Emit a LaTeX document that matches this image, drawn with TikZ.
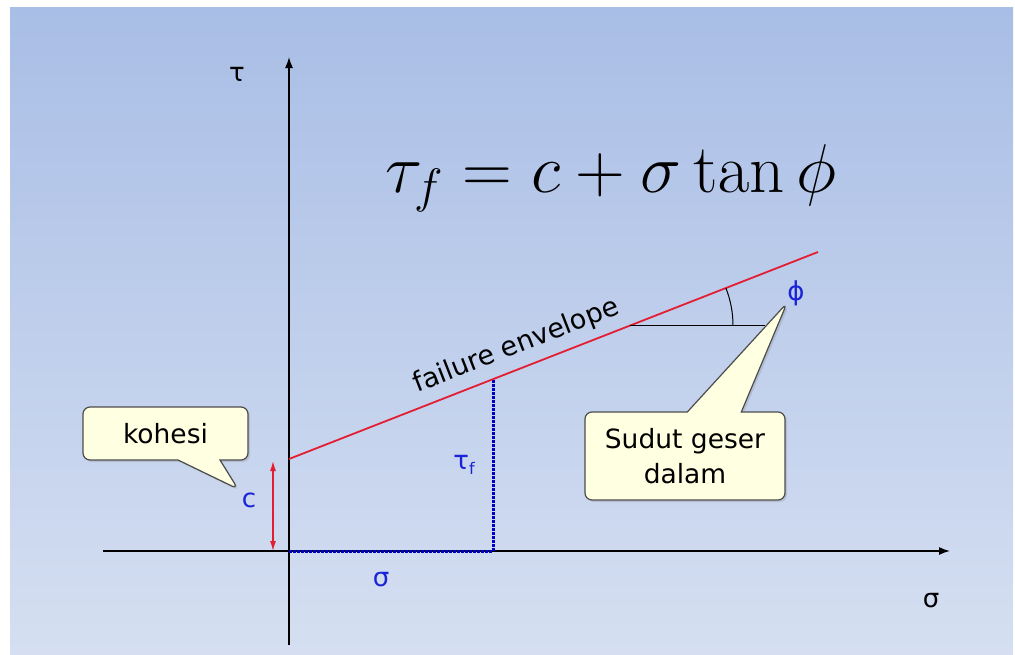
\documentclass[tikz,border=0pt]{standalone}
\usepackage{fix-cm}
\usepackage[no-math]{fontspec}
\setmainfont{DejaVu Sans}
\usetikzlibrary{arrows.meta, shapes.callouts, shadows, calc}

\definecolor{bgtop}{RGB}{169,190,230}
\definecolor{bgbot}{RGB}{213,223,241}
\definecolor{envred}{RGB}{228,30,50}
\definecolor{lblblue}{RGB}{25,35,215}
\definecolor{dotblue}{RGB}{0,0,195}
\definecolor{tipfill}{RGB}{255,255,226}

\begin{document}
\begin{tikzpicture}[x=1pt, y=-1pt, >={Latex[length=11pt,width=8pt]}]
        % Style definitions
        \tikzstyle{axis} = [line width=1.4pt, black, ->]
        \tikzstyle{sym} = [font=\fontsize{26}{30}\selectfont, inner sep=0pt]
        \tikzstyle{bluesym} = [sym, text=lblblue]
        \tikzstyle{tipbox} = [rectangle callout, draw=black!70, line width=1.2pt, fill=tipfill, rounded corners=7pt, inner sep=0pt, align=center, font=\fontsize{26.5}{35}\selectfont, drop shadow={opacity=0.25, shadow xshift=2pt, shadow yshift=-2pt}]

        % Background and bounding box
        \useasboundingbox (0,0) rectangle (1015,654);
        \shade [top color=bgtop, bottom color=bgbot] (10,7) rectangle (1013,654);

        % Points
        \coordinate (O) at (289,551);
        \coordinate (ytop) at (289,57);
        \coordinate (ybot) at (289,645);
        \coordinate (xleft) at (103,551);
        \coordinate (xright) at (950,551);
        \coordinate (c) at (289,459);
        \coordinate (env) at (818,252);
        \coordinate (tf) at (493,379.2);
        \coordinate (sf) at (493,551);
        \coordinate (ctop) at (273,461);
        \coordinate (cbot) at (273,551);
        \coordinate (A) at (630,325.6);
        \coordinate (hend) at (765,325.6);
        \coordinate (ktip) at (238,489);
        \coordinate (stip) at (787,303);

        % Axes
        \draw [axis] (ybot) -- (ytop);
        \draw [axis] (xleft) -- (xright);
        \node [sym] (taulbl) at (237,74) {τ};
        \node [sym] (sigmalbl) at (931,601) {σ};

        % Failure envelope
        \draw [dotblue, line width=3pt, dash pattern=on 3pt off 1pt] (O) -- (sf) -- (tf);
        \draw [envred, line width=1.8pt] (c) -- node[pos=0.445, sloped, above=5pt, text=black, font=\fontsize{27}{30}\selectfont] (envlbl) {failure envelope} (env);
        \draw [envred, line width=1.2pt, {Latex[length=10pt,width=6pt]}-{Latex[length=10pt,width=6pt]}] (cbot) -- (ctop);
        \draw [line width=1pt] (A) -- (hend);
        \draw [line width=1pt] ([xshift=103pt]A) arc [start angle=0, end angle=21.4, radius=103pt];

        % Labels
        \node [bluesym] (clbl) at (249,500) {c};
        \node [bluesym] (taulbl2) at (464,465) {τ\raisebox{-5pt}{\fontsize{16}{18}\selectfont f}};
        \node [bluesym] (sigmalbl2) at (381,580) {σ};
        \node [bluesym] (philbl) at (796,293) {ϕ};

        % Law
        \node [anchor=base west, inner sep=0pt] (law) at (385,192) {\fontsize{69}{75}\selectfont$\tau_f = c + \sigma\tan\phi$};

        % Callouts
        \node [tipbox, minimum width=165pt, minimum height=53pt, callout absolute pointer={(ktip)}, callout pointer width=42pt] (kohesi) at (165.5,433.5) {kohesi};
        \node [tipbox, minimum width=200pt, minimum height=88pt, callout absolute pointer={(stip)}, callout pointer width=54pt] (sudut) at (685,456) {Sudut geser\\dalam};
    \end{tikzpicture}
\end{document}
